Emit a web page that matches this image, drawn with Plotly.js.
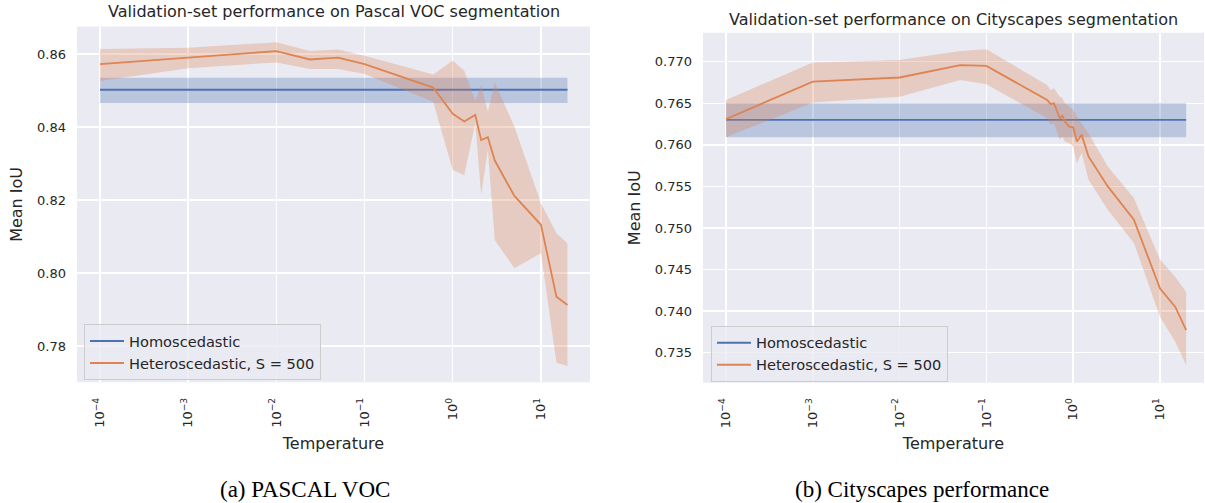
<!DOCTYPE html>
<html><head><meta charset="utf-8">
<script src="https://cdn.plot.ly/plotly-3.0.1.min.js"></script>
<style>html,body{margin:0;padding:0;background:#fff;}</style>
</head><body><div id="chart" style="width:1205px;height:503px;"></div>
<script>
// Tick labels
const tickVals = [1e-4, 1e-3, 1e-2, 1e-1, 1, 10];
const tickText = ['10<sup>−4</sup>', '10<sup>−3</sup>', '10<sup>−2</sup>', '10<sup>−1</sup>', '10<sup>0</sup>', '10<sup>1</sup>'];
const vocYTicks = [0.78, 0.80, 0.82, 0.84, 0.86];
const cityYTicks = [0.735, 0.740, 0.745, 0.750, 0.755, 0.760, 0.765, 0.770];
const seriesNames = ['Homoscedastic', 'Heteroscedastic, S = 500'];

// Pascal VOC
const vocT     = [0.0001, 0.001, 0.01, 0.024, 0.05, 0.1, 0.6, 1.0, 1.35, 1.8, 2.1, 2.5, 3, 5, 10, 15, 20];
const vocMean  = [0.8572, 0.8590, 0.8608, 0.8585, 0.8590, 0.8572, 0.8508, 0.8436, 0.8415, 0.8433, 0.8364, 0.8372, 0.8308, 0.8211, 0.8132, 0.7935, 0.7912];
const vocUpper = [0.8614, 0.8617, 0.8632, 0.8608, 0.8612, 0.8595, 0.8544, 0.8582, 0.8554, 0.8472, 0.8515, 0.8442, 0.8521, 0.8401, 0.8191, 0.8109, 0.8081];
const vocLower = [0.8526, 0.8561, 0.8577, 0.8559, 0.8559, 0.8545, 0.8469, 0.8282, 0.8268, 0.8410, 0.8214, 0.8337, 0.8090, 0.8013, 0.8054, 0.7754, 0.7745];
const vocHomoT     = [0.0001, 20];
const vocHomoMean  = [0.8502, 0.8502];
const vocHomoUpper = [0.8535, 0.8535];
const vocHomoLower = [0.8466, 0.8466];

// Cityscapes
const cityT     = [0.0001, 0.001, 0.01, 0.05, 0.1, 0.5, 0.55, 0.6, 0.7, 0.75, 0.8, 0.9, 1.0, 1.1, 1.25, 1.5, 2.5, 5, 10, 15, 20];
const cityMean  = [0.7631, 0.7676, 0.7681, 0.7696, 0.7695, 0.7654, 0.7649, 0.7650, 0.7632, 0.7635, 0.7628, 0.7622, 0.7621, 0.7604, 0.7612, 0.7586, 0.7550, 0.7510, 0.7427, 0.7405, 0.7377];
const cityUpper = [0.7654, 0.7699, 0.7702, 0.7713, 0.7715, 0.7672, 0.7666, 0.7668, 0.7658, 0.7656, 0.7650, 0.7646, 0.7642, 0.7634, 0.7626, 0.7614, 0.7574, 0.7536, 0.7462, 0.7441, 0.7423];
const cityLower = [0.7609, 0.7651, 0.7658, 0.7678, 0.7673, 0.7632, 0.7624, 0.7626, 0.7606, 0.7610, 0.7604, 0.7602, 0.7598, 0.7578, 0.7590, 0.7558, 0.7522, 0.7482, 0.7393, 0.7363, 0.7335];
const cityHomoT     = [0.0001, 20];
const cityHomoMean  = [0.7630, 0.7630];
const cityHomoUpper = [0.7650, 0.7650];
const cityHomoLower = [0.7609, 0.7609];

const BLUE = '#4C72B0', ORANGE = '#DD8452';
const BLUE_FILL = 'rgba(76,114,176,0.3)', ORANGE_FILL = 'rgba(221,132,82,0.3)';
const TXT = '#262626';
const FONT = 'DejaVu Sans, sans-serif';

function band(x, up, lo, color, xa, ya) {
  return {x: x.concat(x.slice().reverse()), y: up.concat(lo.slice().reverse()),
    type: 'scatter', mode: 'lines', fill: 'toself', fillcolor: color,
    line: {width: 0, color: 'rgba(0,0,0,0)'}, hoverinfo: 'skip', showlegend: false,
    xaxis: xa, yaxis: ya};
}
function line(x, y, color, name, xa, ya, leg) {
  return {x: x, y: y, type: 'scatter', mode: 'lines', name: name,
    line: {color: color, width: 1.8}, xaxis: xa, yaxis: ya, legend: leg};
}

const data = [
  band(vocHomoT, vocHomoUpper, vocHomoLower, BLUE_FILL, 'x', 'y'),
  line(vocHomoT, vocHomoMean, BLUE, seriesNames[0], 'x', 'y', 'legend'),
  band(vocT, vocUpper, vocLower, ORANGE_FILL, 'x', 'y'),
  line(vocT, vocMean, ORANGE, seriesNames[1], 'x', 'y', 'legend'),
  band(cityHomoT, cityHomoUpper, cityHomoLower, BLUE_FILL, 'x2', 'y2'),
  line(cityHomoT, cityHomoMean, BLUE, seriesNames[0], 'x2', 'y2', 'legend2'),
  band(cityT, cityUpper, cityLower, ORANGE_FILL, 'x2', 'y2'),
  line(cityT, cityMean, ORANGE, seriesNames[1], 'x2', 'y2', 'legend2')
];

function xax(domain, range, anchor) {
  return {domain: domain, anchor: anchor, type: 'log', range: range,
    tickvals: tickVals, ticktext: tickText, tickangle: -90,
    tickfont: {family: FONT, size: 13, color: TXT}, ticks: '', ticklabelstandoff: 12,
    showgrid: true, gridcolor: '#ffffff', gridwidth: 1.5, zeroline: false, showline: false,
    automargin: false,
    title: {text: 'Temperature', font: {family: FONT, size: 16, color: TXT}, standoff: 10}};
}
function yax(domain, range, anchor, ticks, fmt) {
  return {domain: domain, anchor: anchor, range: range, tickvals: ticks, tickformat: fmt,
    tickfont: {family: FONT, size: 13, color: TXT}, ticks: '', ticklabelstandoff: 10,
    showgrid: true, gridcolor: '#ffffff', gridwidth: 1.5, zeroline: false, showline: false,
    automargin: false,
    title: {text: 'Mean IoU', font: {family: FONT, size: 16, color: TXT}, standoff: 10}};
}
function legend(x, y) {
  return {x: x, y: y, xanchor: 'left', yanchor: 'bottom', bgcolor: 'rgba(234,234,242,0.8)',
    bordercolor: '#cccccc', borderwidth: 1, font: {family: FONT, size: 14.6, color: TXT},
    tracegroupgap: 0, itemwidth: 34};
}

const layout = {
  width: 1205, height: 503, margin: {l: 0, r: 0, t: 0, b: 0},
  paper_bgcolor: '#ffffff', plot_bgcolor: '#EAEAF2',
  font: {family: FONT, color: TXT},
  xaxis: xax([0.0639, 0.4896], [-4.261, 1.556], 'y'),
  yaxis: yax([0.240, 0.9473], [0.77005, 0.86753], 'x', vocYTicks, '.2f'),
  xaxis2: xax([0.5834, 0.9992], [-4.265, 1.507], 'y2'),
  yaxis2: yax([0.2392, 0.935], [0.73139, 0.77349], 'x2', cityYTicks, '.3f'),
  legend: legend(0.0697, 0.2445),
  legend2: legend(0.590, 0.241),
  annotations: [
    {text: 'Validation-set performance on Pascal VOC segmentation', xref: 'paper', yref: 'paper',
     x: 333.5/1205, y: 1 - 12/503, xanchor: 'center', yanchor: 'middle', showarrow: false,
     font: {family: FONT, size: 16, color: TXT}},
    {text: 'Validation-set performance on Cityscapes segmentation', xref: 'paper', yref: 'paper',
     x: 953.5/1205, y: 1 - 19/503, xanchor: 'center', yanchor: 'middle', showarrow: false,
     font: {family: FONT, size: 16, color: TXT}},
    {text: '(a) PASCAL VOC', xref: 'paper', yref: 'paper',
     x: 305/1205, y: 1 - 489/503, xanchor: 'center', yanchor: 'middle', showarrow: false,
     font: {family: 'Liberation Serif, serif', size: 23, color: '#000000'}},
    {text: '(b) Cityscapes performance', xref: 'paper', yref: 'paper',
     x: 922/1205, y: 1 - 489/503, xanchor: 'center', yanchor: 'middle', showarrow: false,
     font: {family: 'Liberation Serif, serif', size: 23, color: '#000000'}}
  ]
};

Plotly.newPlot('chart', data, layout, {staticPlot: true, displayModeBar: false});
</script></body></html>
